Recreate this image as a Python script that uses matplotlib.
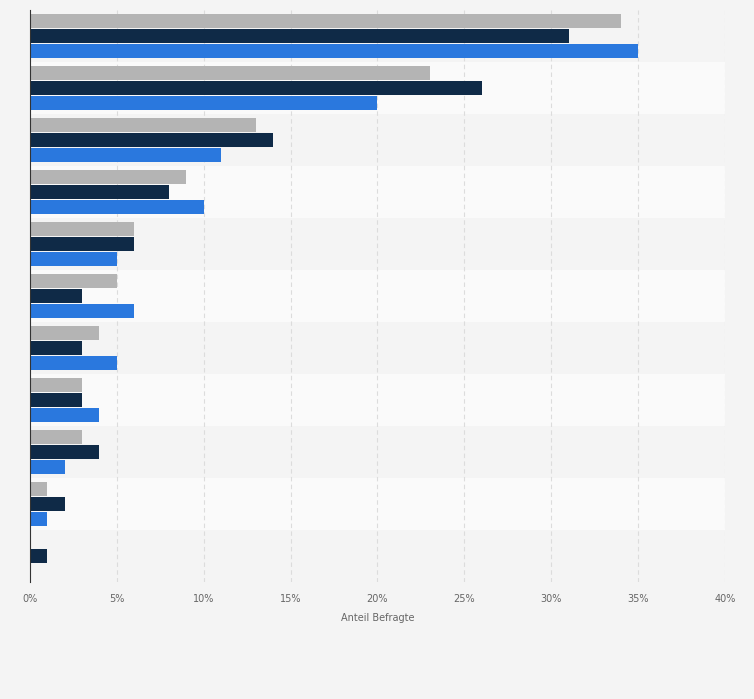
import matplotlib
matplotlib.use("Agg")
import matplotlib.pyplot as plt
import numpy as np

groups = list(range(11))
grey = [34, 23, 13, 9, 6, 5, 4, 3, 3, 1, 0]
dark = [31, 26, 14, 8, 6, 3, 3, 3, 4, 2, 1]
blue = [35, 20, 11, 10, 5, 6, 5, 4, 2, 1, 0]
xticks = [0, 5, 10, 15, 20, 25, 30, 35, 40]
xticklabels = [f"{t}%" for t in xticks]

fig = plt.figure(figsize=(7.54, 6.99), dpi=100)
fig.patch.set_facecolor("#f4f4f4")
W, H = 754, 699
ax = fig.add_axes([30/W, 1-582/H, 695/W, 572/H])
ax.set_facecolor("#fafafa")
n = len(groups)
y = np.arange(n)
for i in range(n):
    if i % 2 == 0:
        ax.axhspan(i-0.5, i+0.5, color="#f4f4f4", zorder=0, lw=0)
ax.set_xlim(0, 40)
ax.set_ylim(n-0.5, -0.5)
for t in xticks[1:]:
    ax.axvline(t, color="#dcdcdc", lw=0.8, ls=(0, (4, 3)), zorder=1)
h = 0.27
ax.barh(y-0.285, grey, height=h, color="#b4b4b4", zorder=2)
ax.barh(y, dark, height=h, color="#0f2a47", zorder=2)
ax.barh(y+0.285, blue, height=h, color="#2a78de", zorder=2)
ax.set_xticks(xticks)
ax.set_xticklabels(xticklabels, fontsize=7, color="#666666")
ax.set_yticks([])
ax.tick_params(axis="x", length=0, pad=9)
for s in ["top", "right", "bottom"]:
    ax.spines[s].set_visible(False)
ax.spines["left"].set_color("#333333")
ax.spines["left"].set_linewidth(0.8)
ax.set_xlabel("Anteil Befragte", fontsize=7, color="#666666", labelpad=6)
fig.savefig("out.png", dpi=100, facecolor=fig.get_facecolor())
